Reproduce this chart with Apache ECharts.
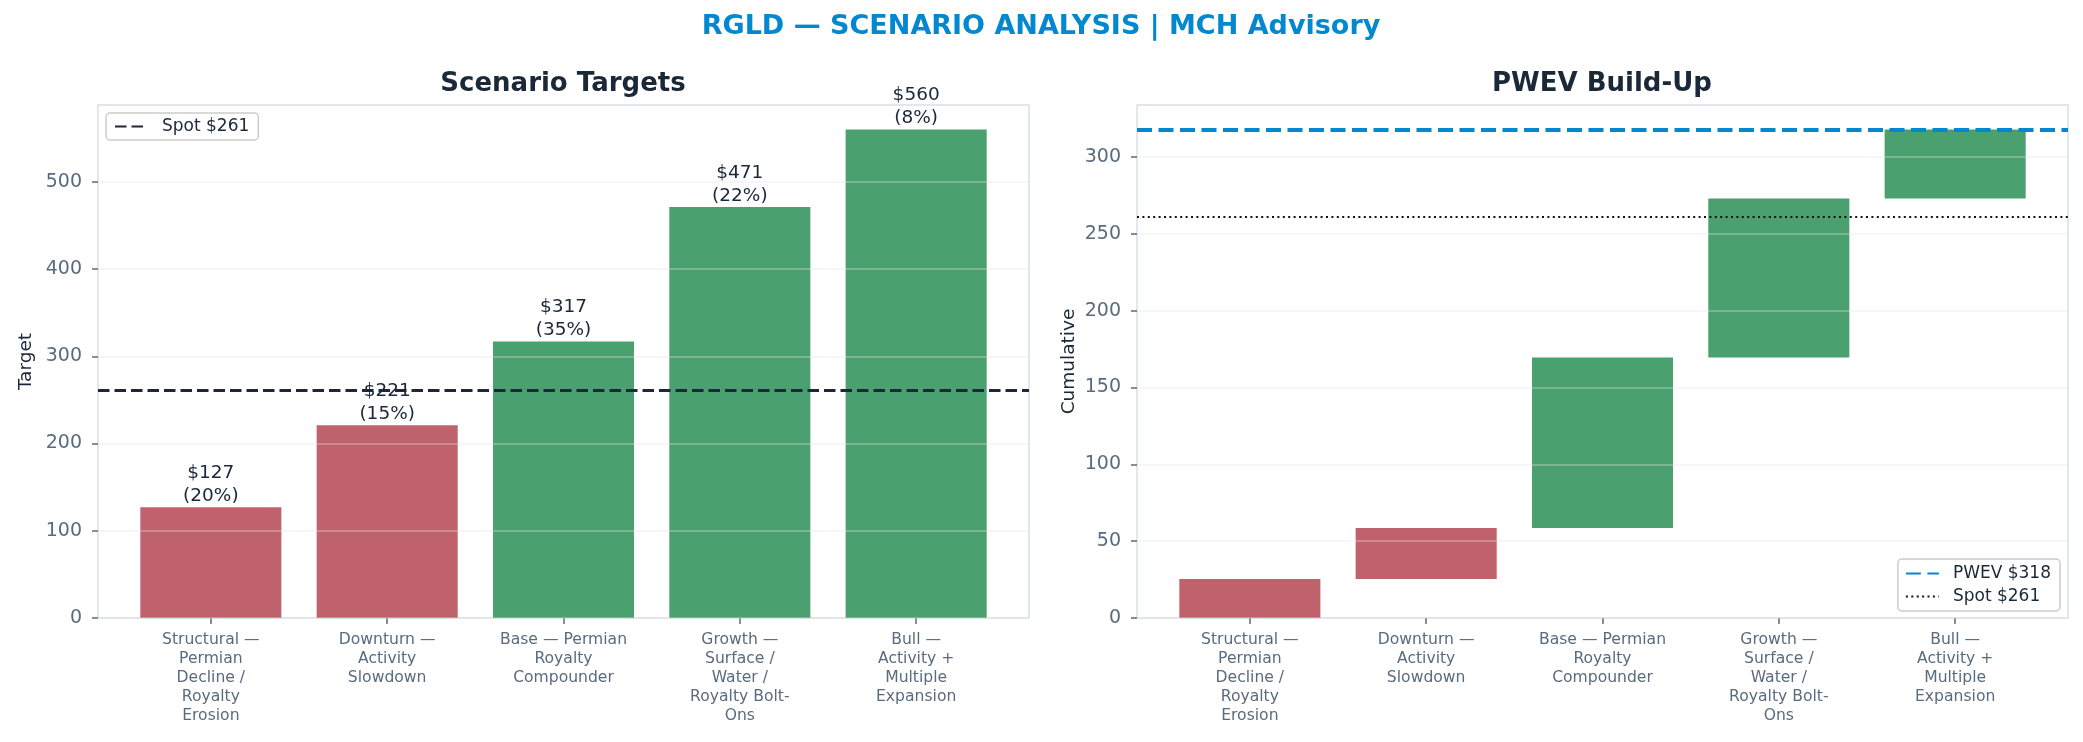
<!DOCTYPE html>
<html><head><meta charset="utf-8">
<script src="https://cdn.jsdelivr.net/npm/echarts@6/dist/echarts.min.js"></script>
<style>html,body{margin:0;padding:0;background:#fff}#c{width:2083px;height:742px}</style>
</head><body><div id="c"></div>
<script>
// ---- data ----
const categories = [
  "Structural — Permian Decline / Royalty Erosion",
  "Downturn — Activity Slowdown",
  "Base — Permian Royalty Compounder",
  "Growth — Surface / Water / Royalty Bolt-Ons",
  "Bull — Activity + Multiple Expansion"
];
const tickLabels = [
  "Structural —\nPermian\nDecline /\nRoyalty\nErosion",
  "Downturn —\nActivity\nSlowdown",
  "Base — Permian\nRoyalty\nCompounder",
  "Growth —\nSurface /\nWater /\nRoyalty Bolt-\nOns",
  "Bull —\nActivity +\nMultiple\nExpansion"
];
const targets = [127, 221, 317, 471, 560];
const probabilities = [20, 15, 35, 22, 8];
const spot = 261;
const pwev = 318;
const waterfallBase = [0, 25.4, 58.6, 169.5, 273.1];
const waterfallTop = [25.4, 58.6, 169.5, 273.1, 317.9];
const leftYTicks = [0, 100, 200, 300, 400, 500];
const rightYTicks = [0, 50, 100, 150, 200, 250, 300];
const xTicks = [0, 1, 2, 3, 4];

// ---- style ----
const FONT = 'DejaVu Sans';
const RED = '#c0626b', GREEN = '#4aa06f', DARK = '#1b2838', TICK = '#5a6b7d';
const BORDER = '#d8dfe7', BLUE = '#0288d1';
const GRIDLINE = 'rgba(228,228,228,0.32)';

const chart = echarts.init(document.getElementById('c'), null, {renderer: 'canvas', width: 2083, height: 742});

function barRenderer(withLabel) {
  return function (params, api) {
    const i = params.dataIndex;
    const x = api.value(0), lo = api.value(1), hi = api.value(2);
    const a = api.coord([x - 0.4, hi]);
    const b = api.coord([x + 0.4, lo]);
    const el = {
      type: 'rect',
      shape: {x: a[0], y: a[1], width: b[0] - a[0], height: b[1] - a[1]},
      style: {fill: targets[i] < spot ? RED : GREEN}
    };
    if (withLabel) {
      el.textContent = {style: {text: '$' + targets[i] + '\n(' + probabilities[i] + '%)', fill: DARK,
        fontSize: 18.5, fontFamily: FONT, align: 'center', lineHeight: 22.5}};
      el.textConfig = {position: 'top', distance: 0};
    }
    return el;
  };
}

function xAxisCfg(gi) {
  return {
    type: 'value', gridIndex: gi, min: -0.64, max: 4.64,
    axisLine: {show: false, onZero: false},
    splitLine: {show: false},
    axisTick: {show: true, customValues: xTicks, length: 6, lineStyle: {color: TICK, width: 1.5}},
    axisLabel: {customValues: xTicks, formatter: v => tickLabels[Math.round(v)], color: TICK,
      fontFamily: FONT, fontSize: 15.6, lineHeight: 19, margin: 12, align: 'center', verticalAlign: 'top'}
  };
}
function yAxisCfg(gi, max, interval, ticks, name, gap) {
  return {
    type: 'value', gridIndex: gi, min: 0, max: max, interval: interval, z: 3,
    name: name, nameLocation: 'middle', nameGap: gap, nameRotate: 90,
    nameTextStyle: {fontFamily: FONT, fontSize: 18.5, color: DARK},
    axisLine: {show: false, onZero: false},
    axisTick: {show: true, customValues: ticks, length: 6, lineStyle: {color: TICK, width: 1.5}},
    axisLabel: {customValues: ticks, color: TICK, fontFamily: FONT, fontSize: 19, margin: 16},
    splitLine: {show: true, lineStyle: {color: GRIDLINE, width: 2}}
  };
}

const option = {
  backgroundColor: '#ffffff',
  animation: false,
  textStyle: {fontFamily: FONT},
  graphic: [
    {type: 'text', x: 1041, y: 27, style: {text: 'RGLD — SCENARIO ANALYSIS | MCH Advisory', fill: BLUE,
      font: 'bold 27px "DejaVu Sans"', align: 'center', verticalAlign: 'middle'}},
    {type: 'text', x: 563, y: 84, style: {text: 'Scenario Targets', fill: DARK,
      font: 'bold 26px "DejaVu Sans"', align: 'center', verticalAlign: 'middle'}},
    {type: 'text', x: 1602, y: 84, style: {text: 'PWEV Build-Up', fill: DARK,
      font: 'bold 26px "DejaVu Sans"', align: 'center', verticalAlign: 'middle'}}
  ],
  grid: [
    {left: 98, top: 105, width: 931, height: 513, show: true, borderColor: BORDER, borderWidth: 1.5, backgroundColor: 'transparent'},
    {left: 1137, top: 105, width: 931, height: 513, show: true, borderColor: BORDER, borderWidth: 1.5, backgroundColor: 'transparent'}
  ],
  xAxis: [xAxisCfg(0), xAxisCfg(1)],
  yAxis: [
    yAxisCfg(0, 588, 100, leftYTicks, 'Target', 62),
    yAxisCfg(1, 333.9, 50, rightYTicks, 'Cumulative', 58)
  ],
  legend: [
    {data: ['Spot $261'], left: 106, top: 113, orient: 'horizontal',
      borderColor: '#cccccc', borderWidth: 1.5, borderRadius: 4, padding: [5, 9, 5, 8],
      backgroundColor: 'rgba(255,255,255,0.85)', itemWidth: 33, itemHeight: 14, itemGap: 6,
      itemStyle: {opacity: 0}, textStyle: {fontFamily: FONT, fontSize: 17, color: DARK, padding: [0, 0, 0, 9]}},
    {data: ['PWEV $318', 'Spot $261 (right)'], right: 23, bottom: 131, orient: 'vertical',
      borderColor: '#cccccc', borderWidth: 1.5, borderRadius: 4, padding: [6, 9, 6, 7],
      backgroundColor: 'rgba(255,255,255,0.85)', itemWidth: 33, itemHeight: 14, itemGap: 6,
      itemStyle: {opacity: 0}, formatter: n => n.replace(' (right)', ''),
      textStyle: {fontFamily: FONT, fontSize: 17, color: DARK, padding: [0, 0, 0, 9]}}
  ],
  series: [
    {
      type: 'custom', name: 'Targets', xAxisIndex: 0, yAxisIndex: 0, z: 2,
      encode: {x: 0, y: [1, 2]},
      data: targets.map((t, i) => [i, 0, t]),
      renderItem: barRenderer(true)
    },
    {
      type: 'line', name: 'Spot $261', xAxisIndex: 0, yAxisIndex: 0, z: 5, data: [], symbol: 'none',
      lineStyle: {color: DARK, width: 3, type: [11.5, 5]},
      itemStyle: {color: DARK},
      markLine: {silent: true, symbol: ['none', 'none'], label: {show: false},
        lineStyle: {color: DARK, width: 3, type: [11.5, 5]}, data: [{yAxis: spot}]}
    },
    {
      type: 'custom', name: 'PWEV', xAxisIndex: 1, yAxisIndex: 1, z: 2,
      encode: {x: 0, y: [1, 2]},
      data: waterfallBase.map((b, i) => [i, b, waterfallTop[i]]),
      renderItem: barRenderer(false)
    },
    {
      type: 'line', name: 'PWEV $318', xAxisIndex: 1, yAxisIndex: 1, z: 5, data: [], symbol: 'none',
      lineStyle: {color: BLUE, width: 4.2, type: [15, 6.5]},
      itemStyle: {color: BLUE},
      markLine: {silent: true, symbol: ['none', 'none'], label: {show: false},
        lineStyle: {color: BLUE, width: 4.2, type: [15, 6.5]}, data: [{yAxis: pwev}]}
    },
    {
      type: 'line', name: 'Spot $261 (right)', xAxisIndex: 1, yAxisIndex: 1, z: 5, data: [], symbol: 'none',
      lineStyle: {color: '#111111', width: 2, type: [2, 3.4]},
      itemStyle: {color: '#111111'},
      markLine: {silent: true, symbol: ['none', 'none'], label: {show: false},
        lineStyle: {color: '#111111', width: 2, type: [2, 3.4]}, data: [{yAxis: spot}]}
    }
  ]
};
chart.setOption(option);
</script>
</body></html>
